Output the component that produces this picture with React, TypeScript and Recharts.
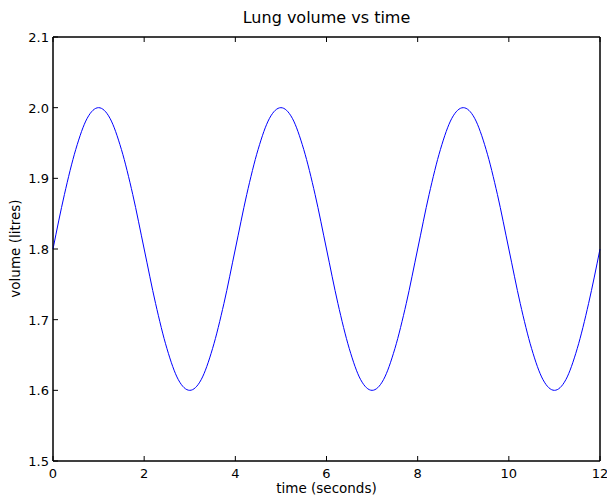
import React from 'react';
import { LineChart, Line, XAxis, YAxis, ReferenceArea } from 'recharts';

const times = [
  0, 0.25, 0.5, 0.75, 1, 1.25, 1.5, 1.75, 2, 2.25, 2.5, 2.75, 3, 3.25, 3.5, 3.75,
  4, 4.25, 4.5, 4.75, 5, 5.25, 5.5, 5.75, 6, 6.25, 6.5, 6.75, 7, 7.25, 7.5, 7.75,
  8, 8.25, 8.5, 8.75, 9, 9.25, 9.5, 9.75, 10, 10.25, 10.5, 10.75, 11, 11.25, 11.5, 11.75,
  12,
];
const volumes = [
  1.8, 1.877, 1.941, 1.985, 2.0, 1.985, 1.941, 1.877, 1.8, 1.723, 1.659, 1.615, 1.6, 1.615, 1.659, 1.723,
  1.8, 1.877, 1.941, 1.985, 2.0, 1.985, 1.941, 1.877, 1.8, 1.723, 1.659, 1.615, 1.6, 1.615, 1.659, 1.723,
  1.8, 1.877, 1.941, 1.985, 2.0, 1.985, 1.941, 1.877, 1.8, 1.723, 1.659, 1.615, 1.6, 1.615, 1.659, 1.723,
  1.8,
];
const xTicks = [0, 2, 4, 6, 8, 10, 12];
const yTicks = [1.5, 1.6, 1.7, 1.8, 1.9, 2.0, 2.1];

const title = 'Lung volume vs time';
const xLabel = 'time (seconds)';
const yLabel = 'volume (litres)';

const data = times.map((t, i) => ({ t, v: volumes[i] }));

const FONT = '"DejaVu Sans", sans-serif';
const TICK_LEN = 5;
const AXIS_COLOR = '#000';

const BottomTick = (props: any) => {
  const { x, y, payload } = props;
  return (
    <g>
      <line x1={x} y1={y} x2={x} y2={y - TICK_LEN} stroke={AXIS_COLOR} strokeWidth={1} />
      <text x={x} y={y + 17} textAnchor="middle" fontSize={13} fontFamily={FONT} fill="#000">
        {payload.value}
      </text>
    </g>
  );
};

const TopTick = (props: any) => {
  const { x, y } = props;
  return <line x1={x} y1={y} x2={x} y2={y + TICK_LEN} stroke={AXIS_COLOR} strokeWidth={1} />;
};

const LeftTick = (props: any) => {
  const { x, y, payload } = props;
  return (
    <g>
      <line x1={x} y1={y} x2={x + TICK_LEN} y2={y} stroke={AXIS_COLOR} strokeWidth={1} />
      <text x={x - 4} y={y + 5} textAnchor="end" fontSize={13} fontFamily={FONT} fill="#000">
        {Number(payload.value).toFixed(1)}
      </text>
    </g>
  );
};

const RightTick = (props: any) => {
  const { x, y } = props;
  return <line x1={x} y1={y} x2={x - TICK_LEN} y2={y} stroke={AXIS_COLOR} strokeWidth={1} />;
};

export default function App() {
  return (
    <div style={{ position: 'absolute', left: 0, top: 0, width: 607, height: 498, background: '#fff' }}>
      <LineChart
        width={607}
        height={498}
        data={data}
        margin={{ top: 36, right: 6, bottom: 0, left: 0 }}
      >
        <XAxis
          xAxisId="bottom"
          dataKey="t"
          type="number"
          domain={[0, 12]}
          ticks={xTicks}
          orientation="bottom"
          height={37}
          tickSize={0}
          tickMargin={0}
          tickLine={false}
          tick={<BottomTick />}
          axisLine={{ stroke: AXIS_COLOR, strokeWidth: 1 }}
          interval={0}
        />
        <XAxis
          xAxisId="top"
          dataKey="t"
          type="number"
          domain={[0, 12]}
          ticks={xTicks}
          orientation="top"
          height={1}
          tickSize={0}
          tickMargin={0}
          tickLine={false}
          tick={<TopTick />}
          axisLine={{ stroke: AXIS_COLOR, strokeWidth: 1 }}
          interval={0}
        />
        <YAxis
          yAxisId="left"
          type="number"
          domain={[1.5, 2.1]}
          ticks={yTicks}
          orientation="left"
          width={53}
          tickSize={0}
          tickMargin={0}
          tickLine={false}
          tick={<LeftTick />}
          axisLine={{ stroke: AXIS_COLOR, strokeWidth: 1 }}
          interval={0}
        />
        <YAxis
          yAxisId="right"
          type="number"
          domain={[1.5, 2.1]}
          ticks={yTicks}
          orientation="right"
          width={1}
          tickSize={0}
          tickMargin={0}
          tickLine={false}
          tick={<RightTick />}
          axisLine={{ stroke: AXIS_COLOR, strokeWidth: 1 }}
          interval={0}
        />
        <ReferenceArea
          xAxisId="bottom"
          yAxisId="left"
          x1={0}
          x2={12}
          y1={1.5}
          y2={2.1}
          fill="none"
          fillOpacity={0}
          stroke={AXIS_COLOR}
          strokeWidth={1}
          strokeOpacity={1}
        />
        <Line
          xAxisId="bottom"
          yAxisId="left"
          type="monotone"
          dataKey="v"
          stroke="#0000ff"
          strokeWidth={1}
          dot={false}
          isAnimationActive={false}
        />
      </LineChart>
      <div
        style={{
          position: 'absolute',
          left: 53,
          width: 547,
          top: 8,
          textAlign: 'center',
          fontFamily: FONT,
          fontSize: 16,
          lineHeight: '20px',
          color: '#000',
        }}
      >
        {title}
      </div>
      <div
        style={{
          position: 'absolute',
          left: 53,
          width: 547,
          top: 480,
          textAlign: 'center',
          fontFamily: FONT,
          fontSize: 13.5,
          lineHeight: '17px',
          color: '#000',
        }}
      >
        {xLabel}
      </div>
      <div
        style={{
          position: 'absolute',
          left: 15 - 100,
          width: 200,
          top: 249 - 9,
          textAlign: 'center',
          fontFamily: FONT,
          fontSize: 13.5,
          lineHeight: '17px',
          color: '#000',
          transform: 'rotate(-90deg)',
        }}
      >
        {yLabel}
      </div>
    </div>
  );
}
